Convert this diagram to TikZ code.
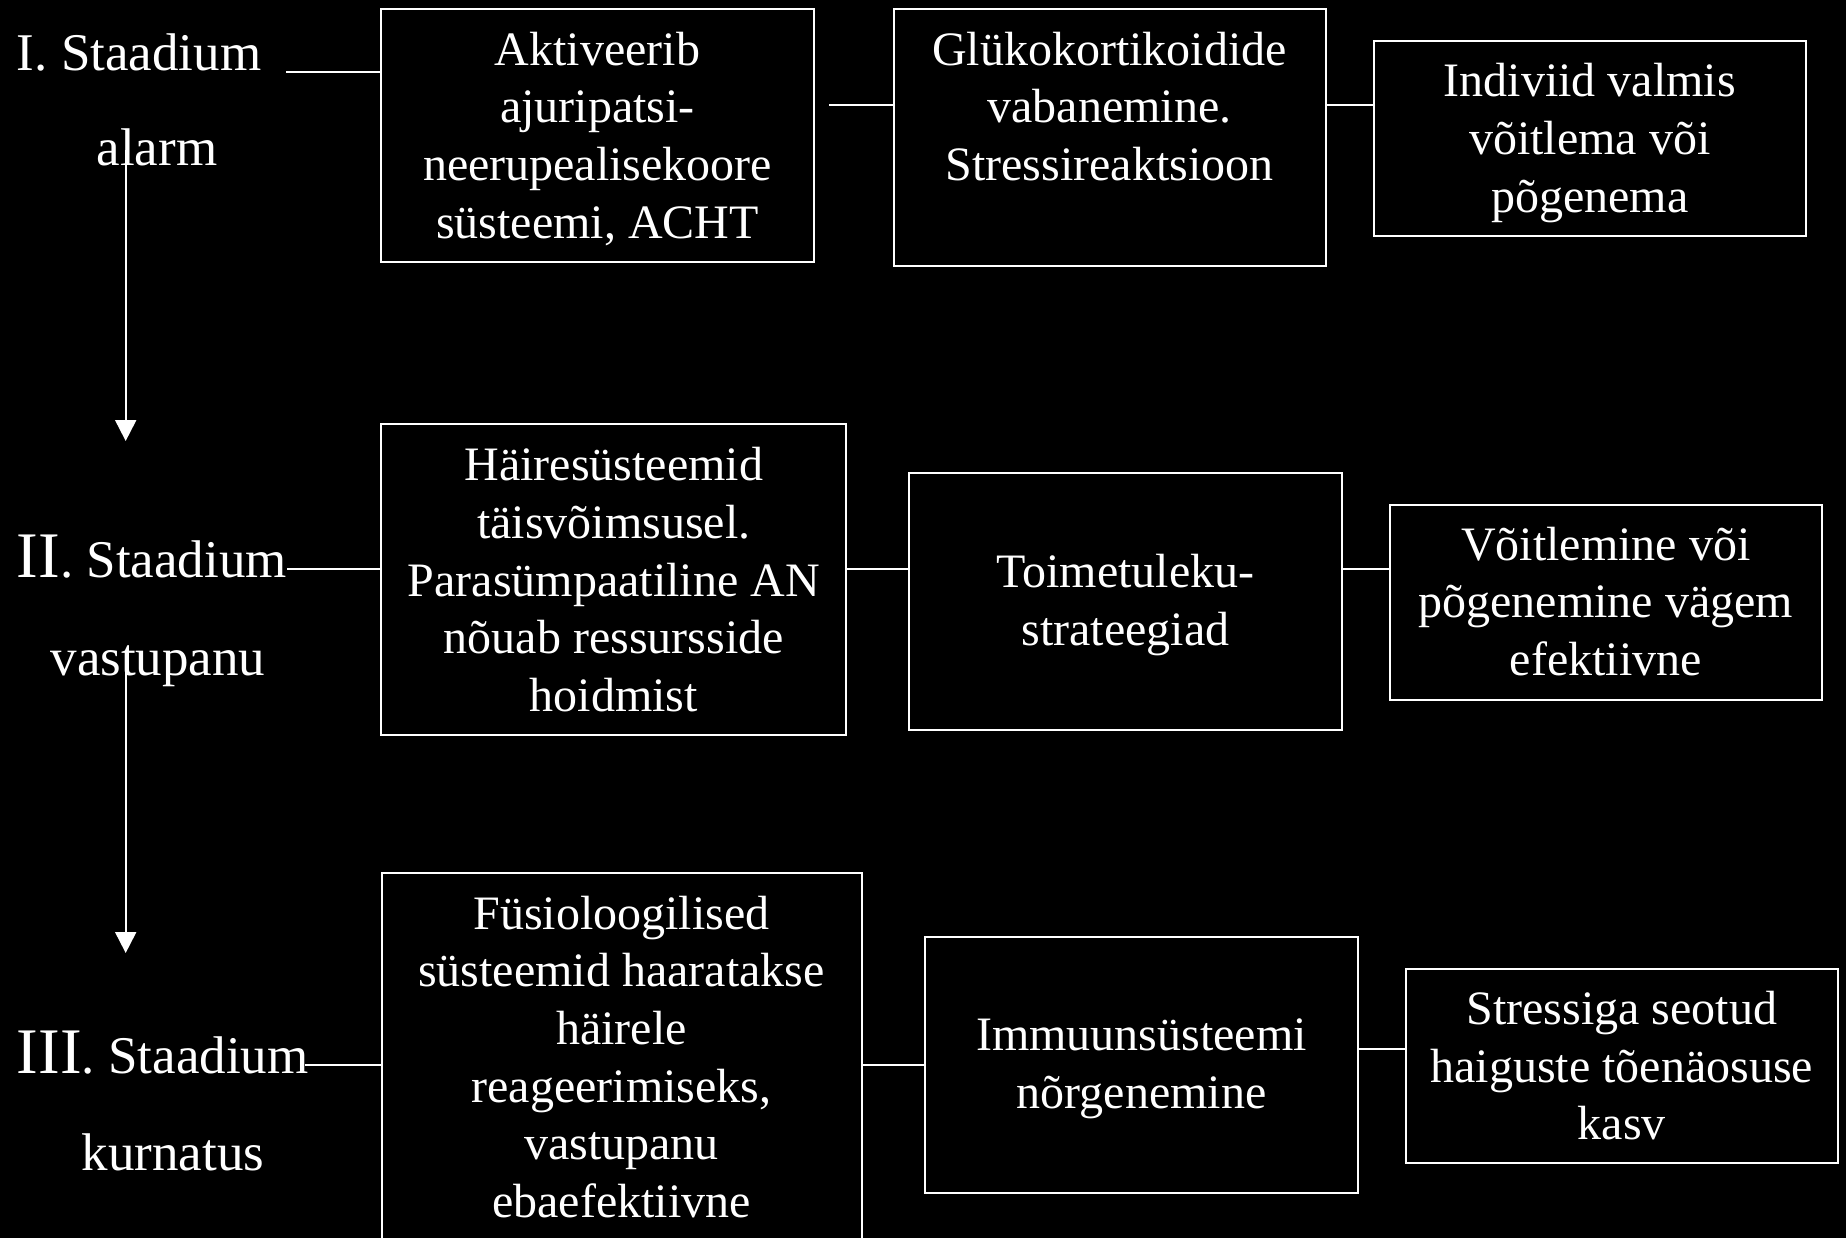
\documentclass[tikz,border=0pt]{standalone}
\usepackage{fontspec}
\setmainfont{Liberation Serif}
\usetikzlibrary{arrows.meta}
% larger roman numerals in the stage titles
\newcommand\stagenum[1]{{\fontsize{32.5}{36}\selectfont #1}}
% centred multi-line text whose reference point is the first baseline
\newcommand\lines[1]{\begin{tabular}[t]{@{}c@{}}#1\end{tabular}}
\begin{document}
\begin{tikzpicture}[x=0.5pt,y=-0.5pt,
  box/.style={draw=white, line width=1pt, inner sep=0pt},
  boxtext/.style={text=white, inner sep=0pt, anchor=base, font=\fontsize{24}{28.85}\selectfont},
  stage/.style={text=white, inner sep=0pt, anchor=base, font=\fontsize{26.5}{32}\selectfont},
  link/.style={draw=white, line width=1pt},
  flow/.style={draw=white, line width=1pt, -{Triangle[width=10.5pt,length=10.5pt]}}]

% page
\useasboundingbox (0,0) rectangle (1846,1237);
\fill[black] (-20,-20) rectangle (1866,1257);
\clip (0,0) rectangle (1846,1237);

% stage titles
\node[stage, anchor=base west] (s1a) at (16.5,70) {I. Staadium};
\node[stage] (s1b) at (157,165) {alarm};
\node[stage, anchor=base west] (s2a) at (16.5,577) {\stagenum{II}. Staadium};
\node[stage] (s2b) at (158,675) {vastupanu};
\node[stage, anchor=base west] (s3a) at (16.5,1073) {\stagenum{III}. Staadium};
\node[stage] (s3b) at (173,1170) {kurnatus};

% boxes
\node[box, minimum width=216.2pt, minimum height=126.2pt] (b1) at (597.6,135.5) {};
\node[box, minimum width=216pt,   minimum height=128.2pt] (b2) at (1109.5,137.5) {};
\node[box, minimum width=216.2pt, minimum height=97.4pt]  (b3) at (1589.8,138.7) {};
\node[box, minimum width=232.3pt, minimum height=155.3pt] (b4) at (613.7,579.7) {};
\node[box, minimum width=216.5pt, minimum height=128.7pt] (b5) at (1125.5,601.4) {};
\node[box, minimum width=216.2pt, minimum height=97.4pt]  (b6) at (1605.8,602.7) {};
\node[box, minimum width=240pt,   minimum height=192pt]   (b7) at (621.5,1065) {};
\node[box, minimum width=216.5pt, minimum height=128pt]   (b8) at (1141.5,1065.3) {};
\node[box, minimum width=216.2pt, minimum height=97.2pt]  (b9) at (1621.8,1066.2) {};

% box texts
\node[boxtext] (t1) at (597.6,65.1) {\lines{Aktiveerib\\ajuripatsi-\\neerupealisekoore\\süsteemi, ACHT}};
\node[boxtext] (t2) at (1109.5,65.1) {\lines{Glükokortikoidide\\vabanemine.\\Stressireaktsioon}};
\node[boxtext] (t3) at (1589.8,96.9) {\lines{Indiviid valmis\\võitlema või\\põgenema}};
\node[boxtext] (t4) at (613.7,480.6) {\lines{Häiresüsteemid\\täisvõimsusel.\\Parasümpaatiline AN\\nõuab ressursside\\hoidmist}};
\node[boxtext] (t5) at (1125.5,587.7) {\lines{Toimetuleku-\\strateegiad}};
\node[boxtext] (t6) at (1605.8,560) {\lines{Võitlemine või\\põgenemine vägem\\efektiivne}};
\node[boxtext] (t7) at (621.5,929) {\lines{Füsioloogilised\\süsteemid haaratakse\\häirele\\reageerimiseks,\\vastupanu\\ebaefektiivne}};
\node[boxtext] (t8) at (1141.5,1050.3) {\lines{Immuunsüsteemi\\nõrgenemine}};
\node[boxtext] (t9) at (1621.8,1024.4) {\lines{Stressiga seotud\\haiguste tõenäosuse\\kasv}};

% connector levels and free ends
\coordinate (r1) at (286,72);
\coordinate (m1) at (829,105);
\coordinate (r2) at (287,569);
\coordinate (r3) at (305,1065);
\coordinate (m3) at (0,1049.3);
\coordinate (a1s) at (125.7,150);
\coordinate (a1e) at (125.7,441);
\coordinate (a2s) at (125.7,650);
\coordinate (a2e) at (125.7,953);

% row I
\draw[link] (r1) -- (b1.west |- r1);
\draw[link] (m1) -- (b2.west |- m1);
\draw[link] (b2.east |- m1) -- (b3.west |- m1);
% row II
\draw[link] (r2) -- (b4.west |- r2);
\draw[link] (b4.east |- r2) -- (b5.west |- r2);
\draw[link] (b5.east |- r2) -- (b6.west |- r2);
% row III
\draw[link] (r3) -- (b7.west |- r3);
\draw[link] (b7.east |- r3) -- (b8.west |- r3);
\draw[link] (b8.east |- m3) -- (b9.west |- m3);

% stage transitions
\draw[flow] (a1s) -- (a1e);
\draw[flow] (a2s) -- (a2e);
\end{tikzpicture}
\end{document}
